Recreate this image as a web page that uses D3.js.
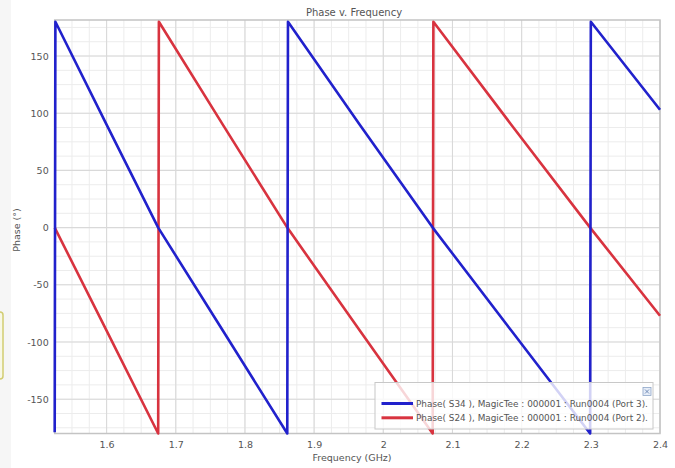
<!DOCTYPE html>
<html>
<head>
<meta charset="utf-8">
<script src="https://cdn.jsdelivr.net/npm/d3@7"></script>
<style>
    body { margin: 0; background: #ffffff; }
    svg text { font-family: "DejaVu Sans", Verdana, sans-serif; fill: #555; }
</style>
</head>
<body>
<svg id="chart" width="675" height="468"></svg>
<script>
// values (frequency in GHz, phase in degrees)
let titleText = "Phase v. Frequency";
let xLabel = "Frequency (GHz)";
let yLabel = "Phase (°)";

let xTicks = [1.6, 1.7, 1.8, 1.9, 2.0, 2.1, 2.2, 2.3, 2.4];
let yTicks = [-150, -100, -50, 0, 50, 100, 150];

let s34Freq  = [1.525, 1.526, 1.600, 1.6746, 1.768, 1.8612, 1.8622, 1.966, 2.0714, 2.185, 2.299, 2.300, 2.400];
let s34Phase = [-179,  180,   90,    0,      -90,   -180,   180,    90,    0,      -90,   -180,  180,   103];

let s24Freq  = [1.525, 1.600, 1.6746, 1.6756, 1.768, 1.8612, 1.966, 2.0714, 2.0724, 2.185, 2.299, 2.400];
let s24Phase = [0,     -90,   -180,   180,    90,     0,     -90,   -180,   180,    90,    0,     -77];

let seriesNames = [
    "Phase( S34 ), MagicTee : 000001 : Run0004 (Port 3).",
    "Phase( S24 ), MagicTee : 000001 : Run0004 (Port 2)."
];
let seriesColors = ["#2121cc", "#d8333f"];

let svg = d3.select("#chart");

let plotLeft = 54.7, plotRight = 660, plotTop = 20, plotBottom = 433.5;

let x = d3.scaleLinear().domain([1.525, 2.4]).range([plotLeft, plotRight]);
let y = d3.scaleLinear().domain([-180, 181.5]).range([plotBottom, plotTop]);

// screenshot leftovers on the left edge
svg.append("rect").attr("x", 0).attr("y", 0).attr("width", 11).attr("height", 468).attr("fill", "#f6f6f6");
svg.append("rect")
    .attr("x", -6).attr("y", 312).attr("width", 9).attr("height", 67)
    .attr("rx", 3).attr("fill", "#f8f8e6").attr("stroke", "#d2cd72").attr("stroke-width", 1.5);

// plot background
svg.append("rect")
    .attr("x", plotLeft).attr("y", plotTop).attr("width", plotRight - plotLeft).attr("height", plotBottom - plotTop)
    .attr("fill", "#ffffff");

// minor grid
let xMinor = d3.range(0, 36).map(i => 1.525 + i * 0.025);
let yMinor = d3.range(-14, 15).map(i => i * 12.5);

svg.append("g").selectAll("line").data(xMinor).join("line")
    .attr("x1", d => x(d)).attr("x2", d => x(d))
    .attr("y1", plotTop).attr("y2", plotBottom)
    .attr("stroke", "#ececec").attr("stroke-width", 1);

svg.append("g").selectAll("line").data(yMinor).join("line")
    .attr("x1", plotLeft).attr("x2", plotRight)
    .attr("y1", d => y(d)).attr("y2", d => y(d))
    .attr("stroke", "#ececec").attr("stroke-width", 1);

// major grid
svg.append("g").selectAll("line").data(xTicks).join("line")
    .attr("x1", d => x(d)).attr("x2", d => x(d))
    .attr("y1", plotTop).attr("y2", plotBottom)
    .attr("stroke", "#d9d9d9").attr("stroke-width", 1.1);

svg.append("g").selectAll("line").data(yTicks).join("line")
    .attr("x1", plotLeft).attr("x2", plotRight)
    .attr("y1", d => y(d)).attr("y2", d => y(d))
    .attr("stroke", "#d9d9d9").attr("stroke-width", 1.1);

// frame
svg.append("rect")
    .attr("x", plotLeft).attr("y", plotTop).attr("width", plotRight - plotLeft).attr("height", plotBottom - plotTop)
    .attr("fill", "none").attr("stroke", "#c4c4c4").attr("stroke-width", 1.5);

// axes (labels only, the grid does the rest)
let xAxis = d3.axisBottom(x).tickValues(xTicks).tickSize(0).tickPadding(8)
    .tickFormat(d => String(+d.toFixed(1)));
let yAxis = d3.axisLeft(y).tickValues(yTicks).tickSize(0).tickPadding(6)
    .tickFormat(d => String(d));

let gx = svg.append("g").attr("transform", "translate(0," + plotBottom + ")").call(xAxis);
let gy = svg.append("g").attr("transform", "translate(" + plotLeft + ",0)").call(yAxis);
for (let g of [gx, gy]) {
    g.select(".domain").remove();
    g.selectAll("text").attr("font-size", 9.5).attr("fill", "#555").attr("font-family", "DejaVu Sans");
}

// series
let line = d3.line().x(d => x(d[0])).y(d => y(d[1]));
let series = [
    d3.zip(s34Freq, s34Phase),
    d3.zip(s24Freq, s24Phase)
];

// red below blue
for (let i of [1, 0]) {
    svg.append("path")
        .datum(series[i])
        .attr("fill", "none")
        .attr("stroke", seriesColors[i])
        .attr("stroke-width", 2.6)
        .attr("stroke-linejoin", "round")
        .attr("d", line);
}

// titles
svg.append("text")
    .attr("x", 354).attr("y", 15.5)
    .attr("text-anchor", "middle").attr("font-size", 10)
    .text(titleText);

svg.append("text")
    .attr("x", 352).attr("y", 461)
    .attr("text-anchor", "middle").attr("font-size", 9.5)
    .text(xLabel);

svg.append("text")
    .attr("transform", "translate(20,230) rotate(-90)")
    .attr("text-anchor", "middle").attr("font-size", 9.5)
    .text(yLabel);

// legend
let lg = svg.append("g");
lg.append("rect")
    .attr("x", 375).attr("y", 382.5).attr("width", 278).attr("height", 46.5)
    .attr("fill", "#ffffff").attr("fill-opacity", 0.8)
    .attr("stroke", "#c8c8c8").attr("stroke-width", 1);

// close button
lg.append("rect")
    .attr("x", 643).attr("y", 387.5).attr("width", 8).attr("height", 8)
    .attr("fill", "#e6edf8").attr("stroke", "#8ea6c8").attr("stroke-width", 0.8);
lg.append("path")
    .attr("d", "M645,389.5L649,393.5M649,389.5L645,393.5")
    .attr("stroke", "#5a78a8").attr("stroke-width", 0.8);

seriesNames.forEach((name, i) => {
    let ly = 403.5 + i * 14.3;
    lg.append("line")
        .attr("x1", 381.5).attr("x2", 413).attr("y1", ly).attr("y2", ly)
        .attr("stroke", seriesColors[i]).attr("stroke-width", 3);
    lg.append("text")
        .attr("x", 416).attr("y", ly + 3)
        .attr("font-size", 8.9).attr("fill", "#555")
        .text(name);
});
</script>
</body>
</html>
